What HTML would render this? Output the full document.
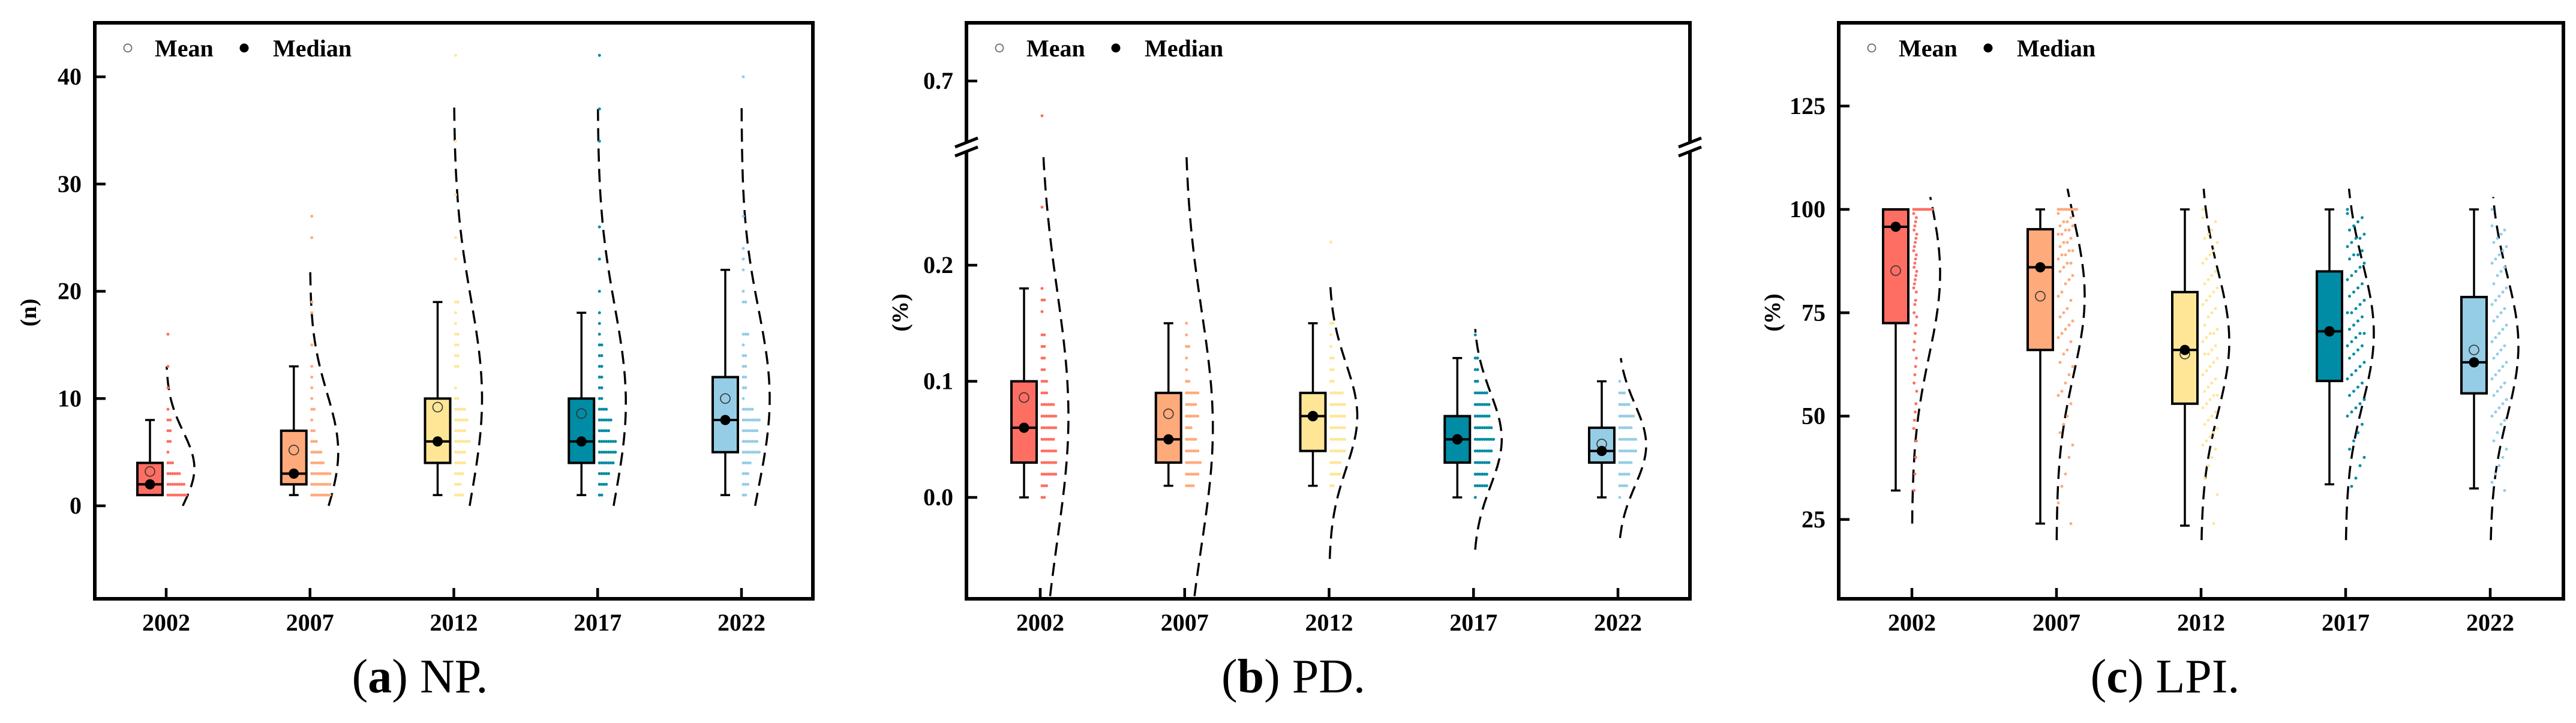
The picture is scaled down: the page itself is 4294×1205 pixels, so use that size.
<!DOCTYPE html>
<html><head><meta charset="utf-8"><title>NP, PD, LPI distributions</title>
<style>
html,body{margin:0;padding:0;background:#fff;}
svg{display:block;}
text{font-family:"Liberation Serif",serif;}
</style></head>
<body>
<svg id="fig" xmlns="http://www.w3.org/2000/svg" width="4294" height="1205" viewBox="0 0 4294 1205"></svg>
<script>
// ---------- data ----------
const years = ["2002","2007","2012","2017","2022"];
const colors = ["#FF6E63","#FFAA7B","#FFE697","#008CA5","#95CDE6"];
// NP (n)
const npWhiskerLow = [1,1,1,1,1];
const npWhiskerHigh = [8,13,19,18,22];
const npQ1 = [1,2,4,4,5];
const npQ3 = [4,7,10,10,12];
const npMedian = [2,3,6,6,8];
const npMean = [3.2,5.2,9.2,8.6,10];
const npCurveMu = [3.5,5,10,9.6,10];
const npCurveSd = [3.4,5.5,9.3,9,8.3];
const npCurveMin = [0,0,0,0,0];
const npCurveMax = [13,22,37.5,37,37.5];
const npDots = [
 [[1,9],[2,8],[3,6],[4,3],[5,1],[6,2],[7,2],[8,2],[9,1],[11,1],[13,1],[16,1]],
 [[1,9],[2,9],[3,9],[4,6],[5,5],[6,3],[7,2],[8,1],[9,2],[10,1],[11,1],[12,1],[13,1],[15,1],[18,1],[19,1],[25,1],[27,1]],
 [[1,4],[2,3],[3,4],[4,5],[5,5],[6,7],[7,5],[8,6],[9,5],[10,2],[11,1],[13,2],[14,2],[15,2],[16,2],[17,1],[18,1],[19,2],[23,1],[25,1],[29,1],[34,1],[42,1]],
 [[1,2],[2,4],[3,5],[4,7],[5,8],[6,8],[7,5],[8,6],[9,4],[10,2],[11,2],[12,2],[13,2],[14,2],[15,2],[16,1],[17,1],[18,1],[20,1],[23,1],[26,1],[34,1],[37,1],[42,1]],
 [[1,2],[2,3],[3,3],[4,4],[5,8],[6,7],[7,7],[8,8],[9,5],[10,1],[11,2],[12,2],[13,2],[14,2],[15,1],[16,3],[19,2],[20,1],[22,1],[23,1],[24,1],[27,1],[40,1]]
];
const npTicks = [0,10,20,30,40];
// PD (%)
const pdWhiskerLow = [0,0.01,0.01,0,0];
const pdWhiskerHigh = [0.18,0.15,0.15,0.12,0.10];
const pdQ1 = [0.03,0.03,0.04,0.03,0.03];
const pdQ3 = [0.10,0.09,0.09,0.07,0.06];
const pdMedian = [0.06,0.05,0.07,0.05,0.04];
const pdMean = [0.086,0.072,0.07,0.05,0.046];
const pdCurveMu = [0.07,0.06,0.07,0.05,0.045];
const pdCurveSd = [0.107,0.1,0.045,0.04,0.035];
const pdCurveMin = [-0.12,-0.12,-0.053,-0.045,-0.035];
const pdCurveMax = [0.293,0.293,0.185,0.145,0.12];
const pdDots = [
 [[0,2],[0.01,3],[0.02,7],[0.03,7],[0.04,7],[0.05,6],[0.06,7],[0.07,7],[0.08,6],[0.09,3],[0.10,3],[0.11,2],[0.12,2],[0.13,2],[0.14,2],[0.16,1],[0.17,2],[0.18,1],[0.25,1]],
 [[0.01,4],[0.02,6],[0.03,7],[0.04,6],[0.05,5],[0.06,3],[0.07,6],[0.08,5],[0.09,6],[0.10,2],[0.11,1],[0.12,1],[0.13,2],[0.14,1],[0.15,1]],
 [[0.01,2],[0.02,5],[0.03,5],[0.04,7],[0.05,7],[0.06,7],[0.07,7],[0.08,7],[0.09,6],[0.10,2],[0.11,2],[0.12,2],[0.13,1],[0.14,1],[0.15,2],[0.22,1]],
 [[0,1],[0.01,6],[0.02,6],[0.03,7],[0.04,8],[0.05,9],[0.06,8],[0.07,7],[0.08,7],[0.09,6],[0.10,2],[0.11,2],[0.12,2],[0.14,1]],
 [[0,1],[0.01,4],[0.02,5],[0.03,6],[0.04,8],[0.05,8],[0.06,6],[0.07,7],[0.08,5],[0.09,3],[0.10,1]]
];
const pdUpperOutliers = [0.6,null,null,null,null];
const pdTicksLower = [0,0.1,0.2];
const pdTickLabelsLower = ["0.0","0.1","0.2"];
const pdTicksUpper = [0.7];
const pdTickLabelsUpper = ["0.7"];
// LPI (%)
const lpiWhiskerLow = [32,24,23.5,33.5,32.5];
const lpiWhiskerHigh = [100,100,100,100,100];
const lpiQ1 = [72.5,66,53,58.5,55.5];
const lpiQ3 = [100,95.2,80,85,78.8];
const lpiMedian = [95.8,86,66,70.5,63];
const lpiMean = [85.2,79,65,70.5,66];
const lpiCurveMu = [84.5,79,68,70,67];
const lpiCurveSd = [20,19,17,17,17];
const lpiCurveMin = [24,20,20,20,20];
const lpiCurveMax = [103,105,105,105,103];
const lpiFullCount = [10,10,1,1,1];
const lpiDots = [
 [99,98,97,96,95,94,93,92,91,90,89,88,87,86,85,84,83,82,81,80,78,77,75,74,72,70,68,66,64,62,60,58,56,53,51,49,47,44,40,36,32],
 [99,98,97,97,96,96,95,95,94,94,93,92,92,91,90,90,89,89,88,87,87,86,85,84,83,82,80,79,78,76,75,74,73,72,71,70,69,68,66,65,63,62,60,58,56,55,53,50,48,46,43,40,36,33,29,24],
 [98,97,95,94,93,92,90,89,88,87,85,84,83,82,81,80,79,78,77,76,75,74,72,71,70,70,69,68,67,66,65,65,64,63,62,61,60,59,58,57,56,55,55,54,53,52,51,50,49,48,47,46,45,44,43,42,40,38,35,31,24],
 [99,98,97,96,95,94,93,93,92,91,90,89,89,88,87,86,85,84,83,82,81,80,79,78,77,76,75,75,74,73,72,71,70,70,69,68,67,67,66,65,64,63,62,61,60,59,58,57,56,55,54,53,52,51,50,48,46,44,42,40,38,35,33],
 [96,95,94,93,92,91,90,89,88,87,86,85,84,82,81,80,79,78,77,76,75,74,73,72,71,70,69,68,67,66,65,64,63,62,61,60,59,58,57,56,55,54,53,52,51,50,49,48,46,44,42,40,38,36,34,32]
];
const lpiSpread = [5,24,24,28,24];
const lpiTicks = [25,50,75,100,125];

// ---------- helpers ----------
const NS = "http://www.w3.org/2000/svg";
const svg = document.getElementById("fig");
function mk(tag, attrs, parent){
  const e = document.createElementNS(NS, tag);
  for (const k in attrs) e.setAttribute(k, attrs[k]);
  (parent||svg).appendChild(e);
  return e;
}
const FRAME_TOP = 38, FRAME_BOT = 998;
const DOT_R = 2.5;

function drawPanel(p){
  const g = mk("g", {});
  
  
  const clipId = "clip-" + p.name;
  const cp = mk("clipPath", {id: clipId}, g);
  mk("rect", {x:p.left, y:FRAME_TOP, width:p.right-p.left, height:FRAME_BOT-FRAME_TOP}, cp);
  const plot = mk("g", {"clip-path":"url(#"+clipId+")"}, g);
  
  
  const tickX = i => p.x0 + i*p.dx;
  const y = p.y;

  years.forEach((yr, i) => {
    const tx = tickX(i);
    const cx = tx - 27;
    const sg = mk("g", {}, plot);
    
    
    let pts = [];
    const steps = 80;
    for (let s = 0; s <= steps; s++){
      const v = p.cMin[i] + (p.cMax[i]-p.cMin[i])*s/steps;
      const w = 47*Math.exp(-Math.pow(v-p.cMu[i],2)/(2*p.cSd[i]*p.cSd[i]));
      pts.push((tx+w).toFixed(1)+","+y(v).toFixed(1));
    }
    const curve = mk("polyline", {points:pts.join(" "), fill:"none", stroke:"#000", "stroke-width":3.5, "stroke-dasharray":"22 12"}, sg);
    
    
    p.drawDots(sg, i, tx);
    const wl = mk("line", {x1:cx, x2:cx, y1:y(p.wLow[i]), y2:y(p.wHigh[i]), stroke:"#000", "stroke-width":3.5}, sg);
    
    
    [p.wLow[i], p.wHigh[i]].forEach(v => {
      const cap = mk("line", {x1:cx-8, x2:cx+8, y1:y(v), y2:y(v), stroke:"#000", "stroke-width":3.5}, sg);
      
      
    });
    const box = mk("rect", {x:cx-21, y:y(p.q3[i]), width:42, height:y(p.q1[i])-y(p.q3[i]), fill:colors[i], stroke:"#000", "stroke-width":4}, sg);
    
    
    const mc = mk("circle", {cx:cx, cy:y(p.mean[i]), r:8, fill:"none", stroke:"#333", "stroke-width":1.6}, sg);
    
    
    const ml = mk("line", {x1:cx-21, x2:cx+21, y1:y(p.median[i]), y2:y(p.median[i]), stroke:"#000", "stroke-width":4}, sg);
    
    
    const md = mk("circle", {cx:cx, cy:y(p.median[i]), r:8.5, fill:"#000"}, sg);
    
    
  });

  const fr = mk("rect", {x:p.left, y:FRAME_TOP, width:p.right-p.left, height:FRAME_BOT-FRAME_TOP, fill:"none", stroke:"#000", "stroke-width":6}, g);
  
  
  years.forEach((yr, i) => {
    const tx = tickX(i);
    const t = mk("line", {x1:tx, x2:tx, y1:FRAME_BOT, y2:FRAME_BOT-18, stroke:"#000", "stroke-width":4.5}, g);
    
    
    const lb = mk("text", {x:tx, y:1051, "text-anchor":"middle", "font-size":40, "font-weight":"bold"}, g);
    lb.textContent = yr;
    
    
  });
  p.yTicks.forEach((v, k) => {
    const ty = p.yTickY(v);
    const t = mk("line", {x1:p.left, x2:p.left+18, y1:ty, y2:ty, stroke:"#000", "stroke-width":4.5}, g);
    
    
    const lb = mk("text", {x:p.left-22, y:ty+13, "text-anchor":"end", "font-size":40, "font-weight":"bold"}, g);
    lb.textContent = p.yTickLabels[k];
    
    
  });
  const yt = mk("text", {x:0, y:0, "text-anchor":"middle", "font-size":38, "font-weight":"bold", transform:"translate("+(p.left-98)+",521) rotate(-90)"}, g);
  yt.textContent = p.yTitle;
  
  
  const lg = mk("g", {}, g);
  
  
  const c1 = mk("circle", {cx:p.left+55, cy:80, r:6.5, fill:"none", stroke:"#777", "stroke-width":2}, lg);
  
  
  const t1 = mk("text", {x:p.left+100, y:94, "font-size":40, "font-weight":"bold"}, lg);
  t1.textContent = "Mean";
  
  
  const c2 = mk("circle", {cx:p.left+249, cy:80, r:7.5, fill:"#000"}, lg);
  
  
  const t2 = mk("text", {x:p.left+297, y:94, "font-size":40, "font-weight":"bold"}, lg);
  t2.textContent = "Median";
  
  
  const cap = mk("text", {x:p.capX, y:1154, "text-anchor":"middle", "font-size":80}, g);
  cap.innerHTML = '(<tspan font-weight="bold">' + p.capLetter + '</tspan>) ' + p.capText;
  
  
  if (p.extra) p.extra(g);
}

function rowDots(parent, rows, i, tx, y){
  rows.forEach(([v, n]) => {
    for (let k = 0; k < n; k++){
      const d = mk("circle", {cx:tx+3+k*3.8, cy:y(v), r:DOT_R, fill:colors[i]}, parent);
      
      
    }
  });
}

// ---------- Panel a: NP ----------
const yA = v => 843 - v*17.875;
drawPanel({
  name:"panel-np", left:158, right:1355, x0:277, dx:239.75, y:yA,
  wLow:npWhiskerLow, wHigh:npWhiskerHigh, q1:npQ1, q3:npQ3, median:npMedian, mean:npMean,
  cMu:npCurveMu, cSd:npCurveSd, cMin:npCurveMin, cMax:npCurveMax,
  drawDots:(sg,i,tx)=>rowDots(sg, npDots[i], i, tx, yA),
  yTicks:npTicks, yTickLabels:npTicks.map(String), yTickY:yA, yTitle:"(n)",
  capX:700, capLetter:"a", capText:"NP."
});

// ---------- Panel b: PD (broken axis) ----------
const yBLow = v => 829 - v*1935;
const yBUp = v => 135 + (0.7 - v)*580;
drawPanel({
  name:"panel-pd", left:1611, right:2817, x0:1734, dx:240.75, y:yBLow,
  wLow:pdWhiskerLow, wHigh:pdWhiskerHigh, q1:pdQ1, q3:pdQ3, median:pdMedian, mean:pdMean,
  cMu:pdCurveMu, cSd:pdCurveSd, cMin:pdCurveMin, cMax:pdCurveMax,
  drawDots:(sg,i,tx)=>{
    rowDots(sg, pdDots[i], i, tx, yBLow);
    if (pdUpperOutliers[i] !== null){
      const d = mk("circle", {cx:tx+3, cy:yBUp(pdUpperOutliers[i]), r:DOT_R, fill:colors[i]}, sg);
      
      
    }
  },
  yTicks:pdTicksLower.concat(pdTicksUpper), yTickLabels:pdTickLabelsLower.concat(pdTickLabelsUpper),
  yTickY:v => v > 0.5 ? yBUp(v) : yBLow(v), yTitle:"(%)",
  capX:2156, capLetter:"b", capText:"PD.",
  extra:(g)=>{
    [1611, 2817].forEach(xs => {
      const bg = mk("g", {}, g);
      
      
      mk("polygon", {points:(xs-18)+",245 "+(xs+18)+",231 "+(xs+18)+",246 "+(xs-18)+",260", fill:"#fff"}, bg);
      mk("line", {x1:xs-19, y1:245, x2:xs+19, y2:230, stroke:"#000", "stroke-width":5}, bg);
      mk("line", {x1:xs-19, y1:260, x2:xs+19, y2:245, stroke:"#000", "stroke-width":5}, bg);
    });
  }
});

// ---------- Panel c: LPI ----------
const yC = v => 349 + (100 - v)*6.89;
drawPanel({
  name:"panel-lpi", left:3065, right:4273, x0:3187, dx:241,
  y:yC,
  wLow:lpiWhiskerLow, wHigh:lpiWhiskerHigh, q1:lpiQ1, q3:lpiQ3, median:lpiMedian, mean:lpiMean,
  cMu:lpiCurveMu, cSd:lpiCurveSd, cMin:lpiCurveMin, cMax:lpiCurveMax,
  drawDots:(sg,i,tx)=>{
    for (let k = 0; k < lpiFullCount[i]; k++){
      const d = mk("circle", {cx:tx+3+k*3.4, cy:yC(100), r:DOT_R, fill:colors[i]}, sg);
      
      
    }
    lpiDots[i].forEach((v, k) => {
      const off = ((k*7)%9)/8 * lpiSpread[i];
      const d = mk("circle", {cx:tx+3+off, cy:yC(v), r:DOT_R, fill:colors[i]}, sg);
      
      
    });
  },
  yTicks:lpiTicks, yTickLabels:lpiTicks.map(String), yTickY:yC, yTitle:"(%)",
  capX:3609, capLetter:"c", capText:"LPI."
});
</script>
</body></html>
